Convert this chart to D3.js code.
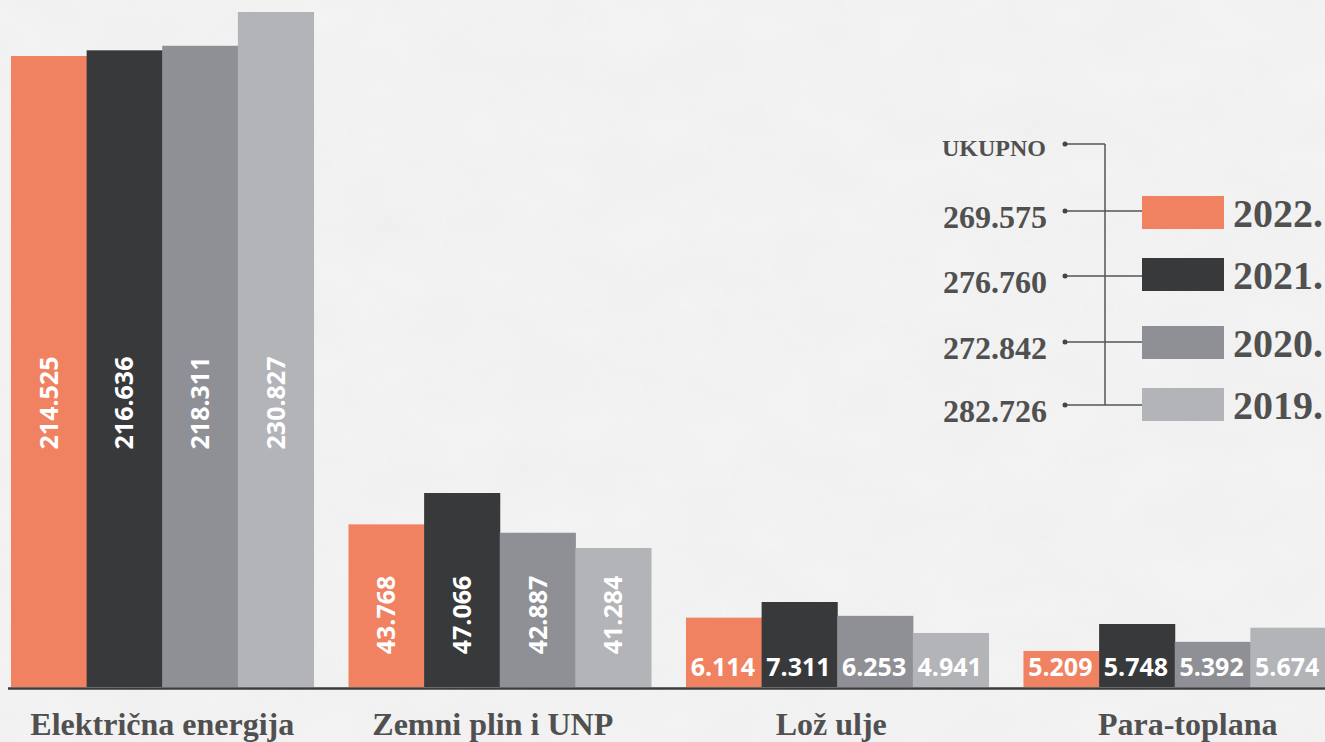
<!DOCTYPE html>
<html><head><meta charset="utf-8">
<script src="https://cdn.jsdelivr.net/npm/d3@7"></script>
<style>
html,body{margin:0;padding:0;background:#f3f3f3;}
svg{display:block;}
</style></head>
<body>
<svg id="chart" width="1325" height="742"></svg>
<script>
// ---- data ----
const categories = ["Električna energija", "Zemni plin i UNP", "Lož ulje", "Para-toplana"];
const years = ["2022.", "2021.", "2020.", "2019."];
const values2022 = [214.525, 43.768, 6.114, 5.209];
const values2021 = [216.636, 47.066, 7.311, 5.748];
const values2020 = [218.311, 42.887, 6.253, 5.392];
const values2019 = [230.827, 41.284, 4.941, 5.674];
const totals = [269.575, 276.760, 272.842, 282.726];
const totalLabel = "UKUPNO";

// ---- style / layout ----
const W = 1325, H = 742;
const baseY = 687;
const colors = ["#f08261", "#38393b", "#8f9095", "#b3b4b8"];
const textGrey = "#505050";
// per-category visual height range (px) for the value extent of that group (broken axis)
const heightRange = [[631, 675], [139, 194], [54, 85], [36, 63]];
const rotatedLabelCenter = [403, 615, null, null];

const series = [values2022, values2021, values2020, values2019];
const data = [];
categories.forEach((c, ci) => {
  years.forEach((y, yi) => data.push({cat: c, ci, year: y, yi, v: series[yi][ci]}));
});

const svg = d3.select("#chart");

// background paper texture
const defs = svg.append("defs");
const f = defs.append("filter").attr("id", "paper").attr("x", 0).attr("y", 0).attr("width", "100%").attr("height", "100%");
f.append("feTurbulence").attr("type", "fractalNoise").attr("baseFrequency", "0.012 0.02").attr("numOctaves", 4).attr("seed", 7).attr("result", "n");
f.append("feColorMatrix").attr("in", "n").attr("type", "matrix")
  .attr("values", "0 0 0 0 0.55  0 0 0 0 0.55  0 0 0 0 0.56  0 0 0 0.10 0").attr("result", "c");
f.append("feComposite").attr("in", "c").attr("in2", "SourceGraphic").attr("operator", "in");
svg.append("rect").attr("width", W).attr("height", H).attr("fill", "#f4f4f4");
svg.append("rect").attr("width", W).attr("height", H).attr("fill", "#ffffff").attr("filter", "url(#paper)");

// scales
const x0 = d3.scaleBand().domain(categories).range([11, 1326]).paddingInner(0.1036).paddingOuter(0);
const x1 = d3.scaleBand().domain(years).range([0, x0.bandwidth()]).padding(0);
const color = d3.scaleOrdinal().domain(years).range(colors);
const yScales = categories.map((c, ci) => {
  const vals = series.map(s => s[ci]);
  return d3.scaleLinear().domain(d3.extent(vals)).range([baseY - heightRange[ci][0], baseY - heightRange[ci][1]]);
});

// bars
const g = svg.append("g");
g.selectAll("rect.bar").data(data).join("rect")
  .attr("class", "bar")
  .attr("x", d => x0(d.cat) + x1(d.year))
  .attr("width", x1.bandwidth() + 0.5)
  .attr("y", d => yScales[d.ci](d.v))
  .attr("height", d => baseY - yScales[d.ci](d.v))
  .attr("fill", d => color(d.year));

const fmt = v => v.toFixed(3);

// value labels
g.selectAll("text.val").data(data).join("text")
  .attr("class", "val")
  .attr("fill", "#ffffff")
  .attr("font-family", "'Open Sans', sans-serif")
  .attr("font-weight", 700)
  .attr("font-size", 25)
  .attr("text-anchor", "middle")
  .attr("transform", d => {
    const cx = x0(d.cat) + x1(d.year) + x1.bandwidth() / 2;
    if (rotatedLabelCenter[d.ci] !== null) {
      return `translate(${cx + 9},${rotatedLabelCenter[d.ci]}) rotate(-90)`;
    }
    return `translate(${cx - 1},${baseY - 11})`;
  })
  .text(d => fmt(d.v));

// baseline axis
svg.append("line").attr("x1", 8).attr("x2", W).attr("y1", baseY + 1.5).attr("y2", baseY + 1.5)
  .attr("stroke", "#3b3b3d").attr("stroke-width", 2.5);

// category labels
svg.selectAll("text.cat").data(categories).join("text")
  .attr("class", "cat")
  .attr("x", (d, i) => x0(d) + x0.bandwidth() / 2 + [0, -7, -6, 13][i])
  .attr("y", 735)
  .attr("text-anchor", "middle")
  .attr("font-family", "'Liberation Serif', serif")
  .attr("font-weight", 700)
  .attr("font-size", 32)
  .attr("fill", textGrey)
  .text(d => d);

// legend
const lg = svg.append("g");
const rowY = d3.scalePoint().domain(years).range([211, 405]);
const rowYs = [276, 342];
const yOf = (yr, i) => [211, 276, 342, 405][i];
const dotX = 1065, spineX = 1105, swX = 1142, swW = 82, swH = 33;

lg.append("line").attr("x1", dotX).attr("x2", spineX).attr("y1", 144).attr("y2", 144)
  .attr("stroke", "#555").attr("stroke-width", 1.5);
lg.append("line").attr("x1", spineX).attr("x2", spineX).attr("y1", 144).attr("y2", 405)
  .attr("stroke", "#555").attr("stroke-width", 1.5);
lg.append("circle").attr("cx", dotX).attr("cy", 144).attr("r", 2.5).attr("fill", "#444");
lg.append("text").attr("x", 942).attr("y", 156).attr("font-family", "'Liberation Serif', serif")
  .attr("font-weight", 700).attr("font-size", 24).attr("fill", textGrey).text(totalLabel);

const rows = lg.selectAll("g.row").data(years).join("g").attr("class", "row");
rows.append("line").attr("x1", dotX).attr("x2", swX).attr("y1", (d, i) => yOf(d, i)).attr("y2", (d, i) => yOf(d, i))
  .attr("stroke", "#555").attr("stroke-width", 1.5);
rows.append("circle").attr("cx", dotX).attr("cy", (d, i) => yOf(d, i)).attr("r", 2.5).attr("fill", "#444");
rows.append("rect").attr("x", swX).attr("width", swW).attr("height", swH)
  .attr("y", (d, i) => [196, 258, 326, 388][i]).attr("fill", d => color(d));
rows.append("text").attr("x", 1047).attr("y", (d, i) => yOf(d, i) + 17)
  .attr("text-anchor", "end")
  .attr("font-family", "'Liberation Serif', serif").attr("font-weight", 700).attr("font-size", 32)
  .attr("fill", textGrey).text((d, i) => fmt(totals[i]));
rows.append("text").attr("x", 1233).attr("y", (d, i) => [196, 258, 326, 388][i] + 31)
  .attr("font-family", "'Liberation Serif', serif").attr("font-weight", 700).attr("font-size", 40)
  .attr("fill", textGrey).text(d => d);
</script>
</body></html>
